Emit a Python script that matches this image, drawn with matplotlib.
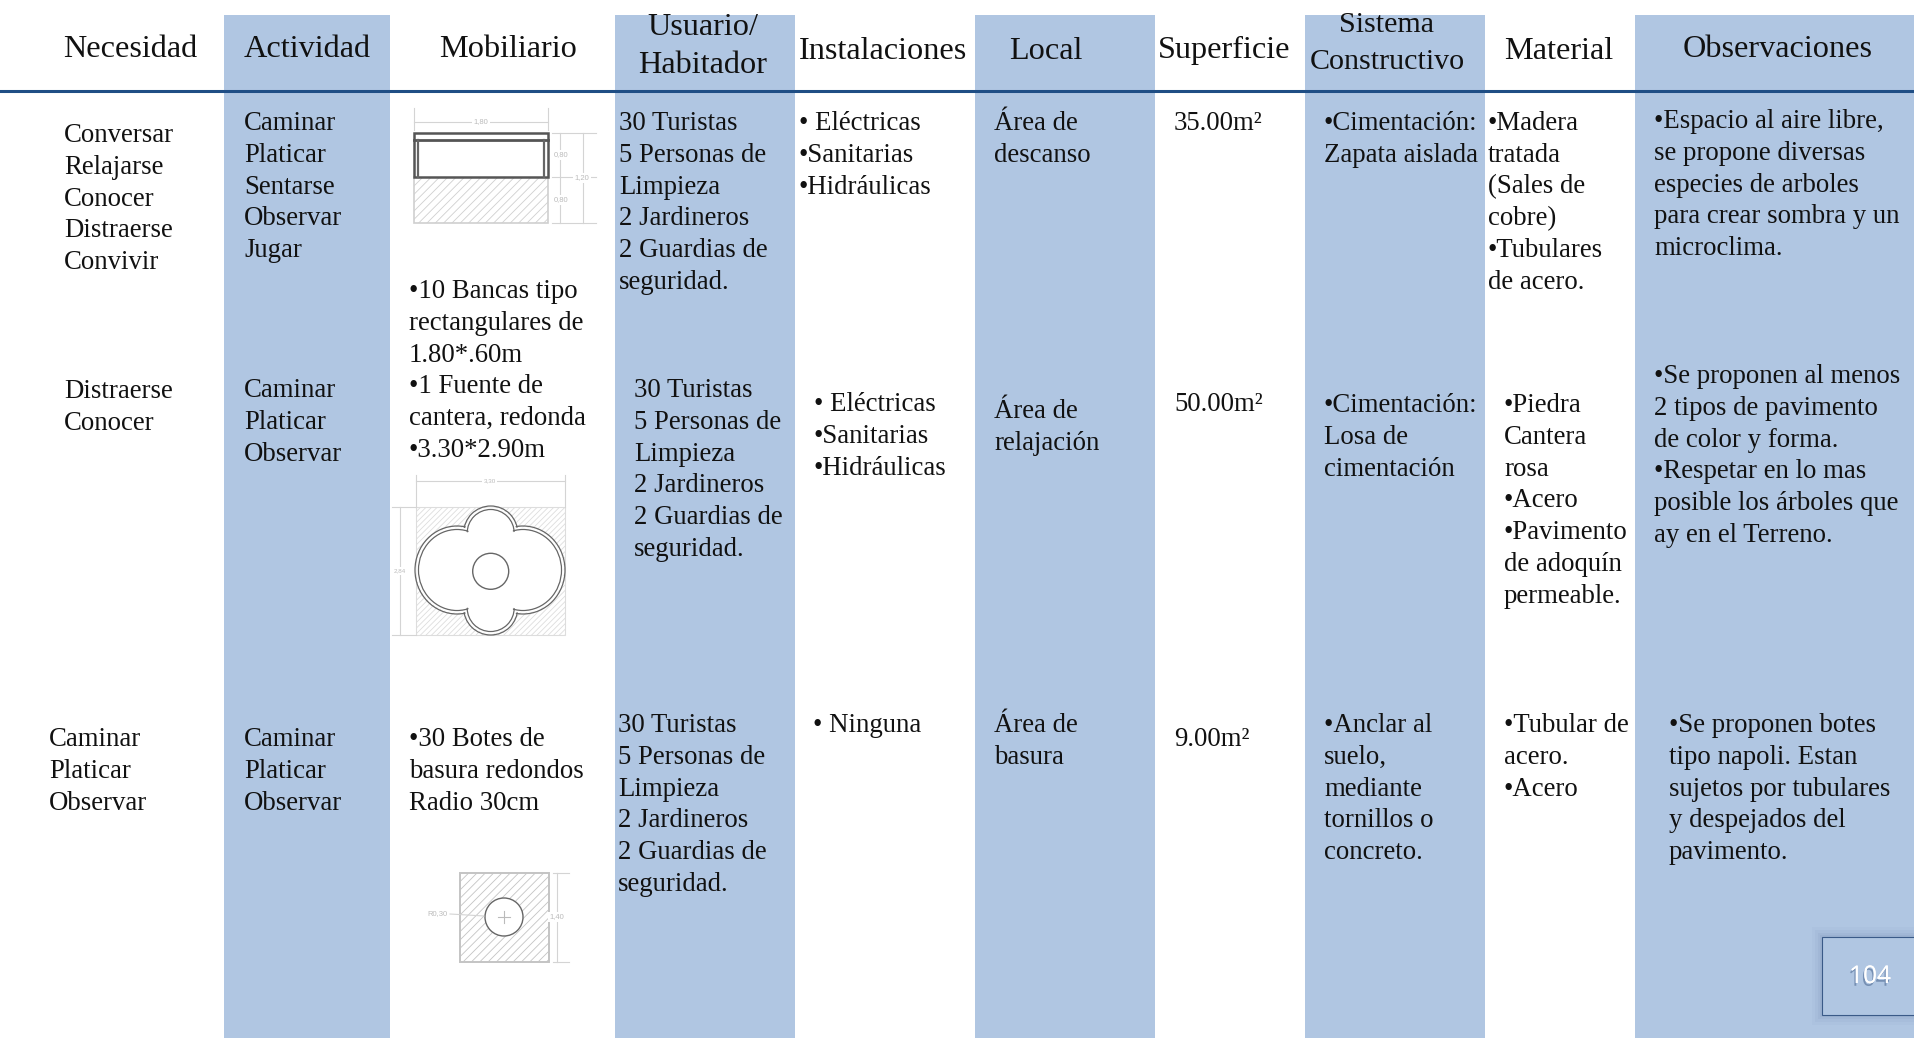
import matplotlib
matplotlib.use("Agg")
import matplotlib.patheffects as pe
import matplotlib.pyplot as plt
from matplotlib.patches import Circle, Ellipse, Rectangle

BAND = "#b0c6e2"
RULE = "#1f4e85"
INK = "#111111"
DIM = "#d4d4d4"
PITCH = 31.8

HEADERS = ["Necesidad", "Actividad", "Mobiliario", "Instalaciones", "Local",
           "Superficie", "Material", "Observaciones"]
HEADERS_TWO_LINES = [["Usuario/", "Habitador"], ["Sistema", "Constructivo"]]

NEC_1 = ["Conversar", "Relajarse", "Conocer", "Distraerse", "Convivir"]
NEC_2 = ["Distraerse", "Conocer"]
NEC_3 = ["Caminar", "Platicar", "Observar"]
ACT_1 = ["Caminar", "Platicar", "Sentarse", "Observar", "Jugar"]
ACT_2 = ["Caminar", "Platicar", "Observar"]
ACT_3 = ["Caminar", "Platicar", "Observar"]
MOB_1 = ["•10 Bancas tipo", "rectangulares de", "1.80*.60m", "•1 Fuente de",
         "cantera, redonda", "•3.30*2.90m"]
MOB_2 = ["•30 Botes de", "basura redondos", "Radio 30cm"]
USERS = ["30 Turistas", "5 Personas de", "Limpieza", "2 Jardineros",
         "2 Guardias de", "seguridad."]
INST_1 = ["• Eléctricas", "•Sanitarias", "•Hidráulicas"]
INST_3 = ["• Ninguna"]
LOCAL_1 = ["Área de", "descanso"]
LOCAL_2 = ["Área de", "relajación"]
LOCAL_3 = ["Área de", "basura"]
AREAS = ["35.00m²", "50.00m²", "9.00m²"]
SIS_1 = ["•Cimentación:", "Zapata aislada"]
SIS_2 = ["•Cimentación:", "Losa de", "cimentación"]
SIS_3 = ["•Anclar al", "suelo,", "mediante", "tornillos o", "concreto."]
MAT_1 = ["•Madera", "tratada", "(Sales de", "cobre)", "•Tubulares", "de acero."]
MAT_2 = ["•Piedra", "Cantera", "rosa", "•Acero", "•Pavimento", "de adoquín", "permeable."]
MAT_3 = ["•Tubular de", "acero.", "•Acero"]
OBS_1 = ["•Espacio al aire libre,", "se propone diversas", "especies de arboles",
         "para crear sombra y un", "microclima."]
OBS_2 = ["•Se proponen al menos", "2 tipos de pavimento", "de color y forma.",
         "•Respetar en lo mas", "posible los árboles que", "ay en el Terreno."]
OBS_3 = ["•Se proponen botes", "tipo napoli. Estan", "sujetos por tubulares",
         "y despejados del", "pavimento."]
PAGE = "104"

plt.rcParams["font.family"] = ["Liberation Serif", "DejaVu Serif"]
plt.rcParams["hatch.linewidth"] = 0.6

fig = plt.figure(figsize=(19.15, 10.38), dpi=100)
ax = fig.add_axes([0, 0, 1, 1])
ax.set_xlim(0, 1915)
ax.set_ylim(1038, 0)
ax.axis("off")


def block(x, y, lines, size=19.3):
    for i, line in enumerate(lines):
        ax.text(x, y + i * PITCH, line, fontsize=size, color=INK, va="baseline", ha="left")


def dim_line(x0, y0, x1, y1):
    ax.plot([x0, x1], [y0, y1], color=DIM, lw=0.8, zorder=3)


def small(x, y, s, size=5.5):
    ax.text(x, y, s, fontsize=size, color="#bbbbbb", ha="center", va="center",
            family=["Liberation Sans"], zorder=4,
            bbox=dict(fc="white", ec="none", pad=1))


for x0, x1 in [(224, 390), (615, 795), (975, 1155), (1305, 1485), (1635, 1915)]:
    ax.add_patch(Rectangle((x0, 15), x1 - x0, 1023, fc=BAND, ec="none", zorder=0))
ax.plot([0, 1915], [90.5, 90.5], color=RULE, lw=2.2, zorder=2)

# header row
for x, s, y in zip([63, 244, 439, 799, 1009, 1158, 1504, 1683], HEADERS,
                   [57, 57, 57, 59, 59, 58, 59, 57]):
    ax.text(x, y, s, fontsize=23.2, color=INK, va="baseline")
ax.text(703, 35, HEADERS_TWO_LINES[0][0], fontsize=23.2, color=INK, ha="center", va="baseline")
ax.text(703, 73, HEADERS_TWO_LINES[0][1], fontsize=23.2, color=INK, ha="center", va="baseline")
ax.text(1387, 32, HEADERS_TWO_LINES[1][0], fontsize=21.6, color=INK, ha="center", va="baseline")
ax.text(1387, 69, HEADERS_TWO_LINES[1][1], fontsize=21.6, color=INK, ha="center", va="baseline")

# row 1
block(64, 142, NEC_1)
block(244, 130, ACT_1)
block(409, 298, MOB_1)
block(619, 130, USERS)
block(799, 130, INST_1)
block(994, 130, LOCAL_1)
block(1174, 130, AREAS[:1])
block(1324, 130, SIS_1)
block(1488, 130, MAT_1)
block(1654, 128, OBS_1)

# row 2
block(64, 398, NEC_2)
block(244, 397, ACT_2)
block(634, 397, USERS)
block(814, 411, INST_1)
block(994, 418, LOCAL_2)
block(1174, 411, AREAS[1:2])
block(1324, 412, SIS_2)
block(1504, 412, MAT_2)
block(1654, 383, OBS_2)

# row 3
block(49, 746, NEC_3)
block(244, 746, ACT_3)
block(409, 746, MOB_2)
block(618, 732, USERS)
block(813, 732, INST_3)
block(994, 732, LOCAL_3)
block(1174, 746, AREAS[2:])
block(1324, 732, SIS_3)
block(1504, 732, MAT_3)
block(1669, 732, OBS_3)

# bench drawing
ax.add_patch(Rectangle((414, 177), 134, 46, fc="white", ec="#cfcfcf", lw=1.2,
                       hatch="////", zorder=2))
ax.add_patch(Rectangle((414, 133), 134, 44, fc="white", ec="#555555", lw=1.8, zorder=3))
ax.plot([414, 548], [140, 140], color="#555555", lw=2.0, zorder=3)
for x in [418, 544]:
    ax.plot([x, x], [140, 177], color="#666666", lw=1.6, zorder=3)
dim_line(414, 108, 414, 130)
dim_line(548, 108, 548, 130)
dim_line(414, 122, 548, 122)
for y in [133, 177, 223]:
    dim_line(552, y, 596, y)
dim_line(560, 133, 560, 223)
dim_line(583, 133, 583, 223)
small(481, 122, "1,80")
small(561, 155, "0,80")
small(561, 200, "0,80")
small(582, 178, "1,20")

# fountain drawing
ax.add_patch(Rectangle((416, 507), 149, 128, fc="white", ec="#dddddd", lw=0.8,
                       hatch="//////", zorder=2))
lobes = [(457, 570, 84, 88), (523, 570, 84, 88), (490.7, 533, 54, 54), (490.7, 608, 54, 54)]
for inset in [0, 7]:
    for cx, cy, w, h in lobes:
        ax.add_patch(Ellipse((cx, cy), w - inset, h - inset, fc="none", ec="#666666", lw=0.9, zorder=3))
    for cx, cy, w, h in lobes:
        ax.add_patch(Ellipse((cx, cy), w - inset - 2.5, h - inset - 2.5, fc="white", ec="none", zorder=3))
ax.add_patch(Circle((490.7, 571.3), 18, fc="white", ec="#666666", lw=1.0, zorder=4))
dim_line(416, 475, 416, 507)
dim_line(565, 475, 565, 507)
dim_line(416, 481, 565, 481)
dim_line(400, 507, 400, 635)
dim_line(392, 507, 416, 507)
dim_line(392, 635, 416, 635)
small(490, 481, "3,30", 4.5)
small(400, 571, "2,84", 4.5)

# trash bin drawing
ax.add_patch(Rectangle((460, 873), 89, 89, fc="white", ec="#c4c4c4", lw=1.4,
                       hatch="////", zorder=2))
ax.add_patch(Circle((504, 917), 19, fc="white", ec="#666666", lw=1.0, zorder=3))
ax.plot([498, 510], [917, 917], color="#bbbbbb", lw=0.8, zorder=4)
ax.plot([504, 504], [911, 923], color="#bbbbbb", lw=0.8, zorder=4)
dim_line(450, 914, 484, 916)
dim_line(557, 873, 557, 962)
dim_line(553, 873, 569, 873)
dim_line(553, 962, 569, 962)
small(437, 914, "R0,30")
small(557, 917, "1,40")

# page number box
for grow, alpha in [(10, 0.03), (7, 0.04), (4, 0.05), (2, 0.06)]:
    ax.add_patch(Rectangle((1822 - grow, 937 - grow), 110, 78 + 2 * grow,
                           fc="#3c5a85", ec="none", alpha=alpha, zorder=3))
ax.add_patch(Rectangle((1822, 937), 110, 78, fc=BAND, ec="#3a5a88", lw=0.8, zorder=4))
ax.text(1870, 977, PAGE, fontsize=17.5, color="white", family=["Open Sans"],
        ha="center", va="center", zorder=5,
        path_effects=[pe.withSimplePatchShadow(offset=(-1, -2), shadow_rgbFace="#3c5a85", alpha=0.5),
                      pe.Normal()])

fig.savefig("out.png", dpi=100)
